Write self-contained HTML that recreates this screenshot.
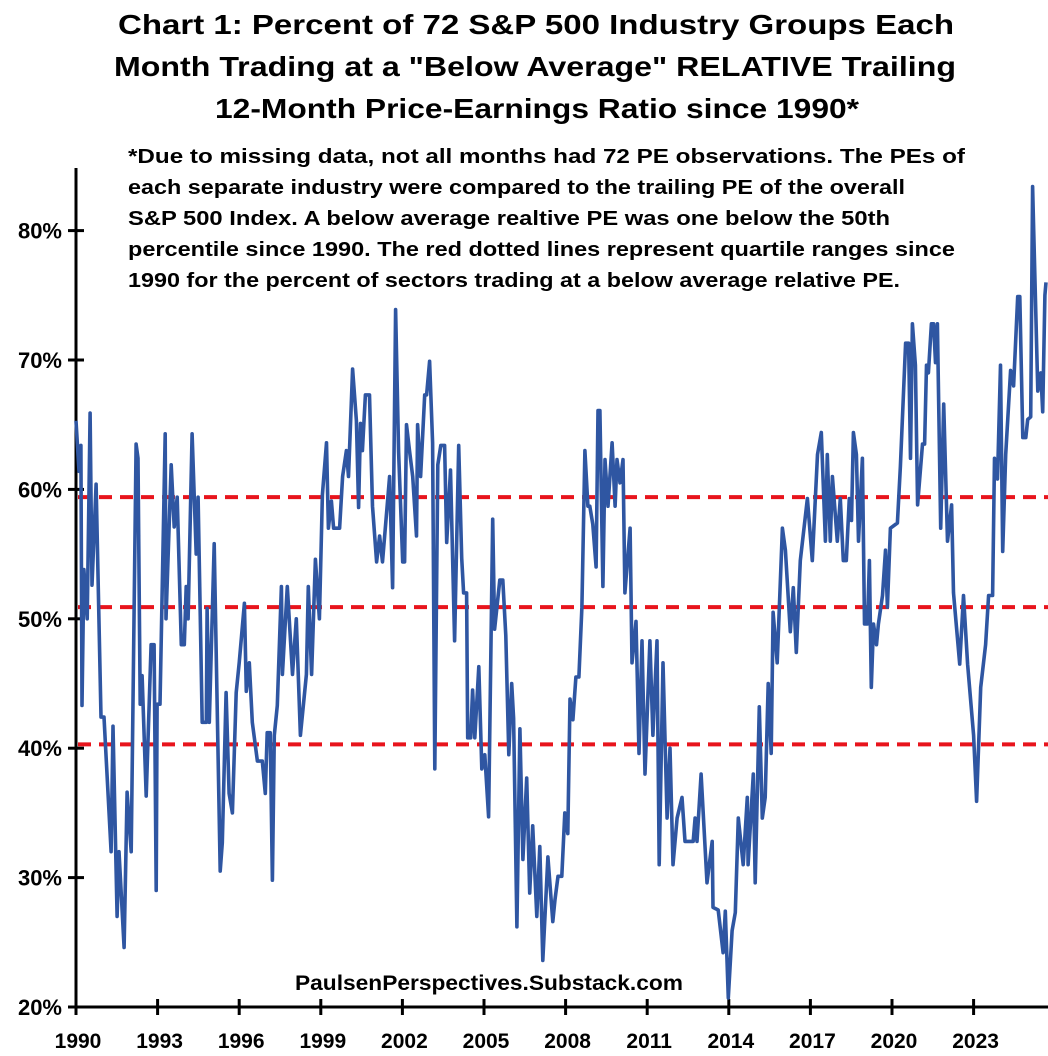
<!DOCTYPE html>
<html><head><meta charset="utf-8"><style>
html,body{margin:0;padding:0;background:#fff;}
svg{display:block;font-family:"Liberation Sans",sans-serif;font-weight:bold;}
</style></head><body>
<svg id="chart" width="1048" height="1056" viewBox="0 0 1048 1056" xmlns="http://www.w3.org/2000/svg">
<g font-size="28" text-anchor="middle" fill="#000">
<text x="536" y="34" textLength="836" lengthAdjust="spacingAndGlyphs">Chart 1: Percent of 72 S&amp;P 500 Industry Groups Each</text>
<text x="535" y="76" textLength="842" lengthAdjust="spacingAndGlyphs">Month Trading at a "Below Average" RELATIVE Trailing</text>
<text x="537" y="118" textLength="644" lengthAdjust="spacingAndGlyphs">12-Month Price-Earnings Ratio since 1990*</text>
</g>
<g font-size="20" fill="#000">
<text x="128" y="163" textLength="837" lengthAdjust="spacingAndGlyphs">*Due to missing data, not all months had 72 PE observations.  The PEs of</text>
<text x="128" y="194" textLength="777" lengthAdjust="spacingAndGlyphs">each separate industry were compared to the trailing PE of the overall</text>
<text x="128" y="225" textLength="762" lengthAdjust="spacingAndGlyphs">S&amp;P 500 Index.  A below average realtive PE was one below the 50th</text>
<text x="128" y="256" textLength="827" lengthAdjust="spacingAndGlyphs">percentile since 1990.  The red dotted lines represent quartile ranges since</text>
<text x="128" y="287" textLength="772" lengthAdjust="spacingAndGlyphs">1990 for the percent of sectors trading at a below average relative PE.</text>
</g>
<text x="489" y="990" font-size="21" text-anchor="middle" textLength="388" lengthAdjust="spacingAndGlyphs">PaulsenPerspectives.Substack.com</text>
<g id="axes"></g>
<g id="refs"></g>
<g id="series"></g>
</svg>
<script>
const yTicks = [20, 30, 40, 50, 60, 70, 80];
const xTicks = [1990, 1993, 1996, 1999, 2002, 2005, 2008, 2011, 2014, 2017, 2020, 2023];
const quartiles = [59.4, 50.9, 40.3];
const dates = [1990.00,1990.11,1990.18,1990.22,1990.29,1990.41,1990.52,1990.59,1990.74,1990.92,1991.03,1991.29,1991.36,1991.51,1991.58,1991.77,1991.88,1992.03,1992.21,1992.28,1992.36,1992.43,1992.58,1992.76,1992.87,1992.95,1992.98,1993.09,1993.28,1993.31,1993.50,1993.61,1993.72,1993.87,1993.98,1994.05,1994.12,1994.27,1994.42,1994.49,1994.64,1994.79,1994.82,1994.90,1995.08,1995.30,1995.38,1995.52,1995.63,1995.75,1995.89,1996.00,1996.19,1996.26,1996.37,1996.48,1996.67,1996.85,1996.96,1997.03,1997.14,1997.22,1997.29,1997.40,1997.55,1997.59,1997.77,1997.96,1998.10,1998.25,1998.47,1998.54,1998.66,1998.80,1998.95,1999.06,1999.21,1999.28,1999.39,1999.47,1999.69,1999.80,1999.94,2000.02,2000.17,2000.31,2000.39,2000.46,2000.53,2000.64,2000.79,2000.90,2001.05,2001.16,2001.27,2001.53,2001.64,2001.75,2001.86,2002.01,2002.08,2002.15,2002.26,2002.38,2002.52,2002.56,2002.67,2002.82,2002.89,2003.00,2003.11,2003.19,2003.30,2003.41,2003.55,2003.63,2003.77,2003.92,2004.07,2004.18,2004.25,2004.36,2004.40,2004.51,2004.58,2004.66,2004.81,2004.92,2005.03,2005.17,2005.32,2005.39,2005.58,2005.69,2005.80,2005.91,2006.02,2006.09,2006.21,2006.32,2006.43,2006.57,2006.68,2006.79,2006.94,2007.05,2007.16,2007.35,2007.53,2007.61,2007.72,2007.86,2007.97,2008.08,2008.16,2008.27,2008.38,2008.49,2008.60,2008.71,2008.82,2008.89,2009.00,2009.12,2009.19,2009.26,2009.37,2009.45,2009.56,2009.71,2009.82,2009.89,2010.00,2010.11,2010.18,2010.37,2010.44,2010.59,2010.70,2010.81,2010.92,2011.10,2011.21,2011.36,2011.44,2011.58,2011.73,2011.84,2011.95,2012.10,2012.28,2012.39,2012.69,2012.76,2012.83,2012.98,2013.20,2013.39,2013.42,2013.61,2013.79,2013.87,2013.98,2014.12,2014.24,2014.35,2014.53,2014.68,2014.71,2014.90,2014.97,2015.12,2015.23,2015.34,2015.45,2015.56,2015.63,2015.78,2015.97,2016.08,2016.26,2016.37,2016.48,2016.63,2016.89,2017.07,2017.26,2017.40,2017.55,2017.62,2017.73,2017.81,2017.99,2018.10,2018.21,2018.32,2018.43,2018.51,2018.58,2018.69,2018.77,2018.91,2018.99,2019.10,2019.17,2019.24,2019.32,2019.43,2019.50,2019.65,2019.76,2019.83,2019.94,2020.20,2020.31,2020.50,2020.61,2020.68,2020.75,2020.86,2020.94,2021.12,2021.20,2021.27,2021.34,2021.45,2021.53,2021.60,2021.67,2021.79,2021.90,2022.04,2022.19,2022.26,2022.49,2022.63,2022.78,2023.00,2023.11,2023.26,2023.44,2023.55,2023.70,2023.77,2023.88,2023.99,2024.07,2024.18,2024.36,2024.47,2024.62,2024.70,2024.81,2024.92,2024.99,2025.10,2025.17,2025.21,2025.36,2025.47,2025.54,2025.62,2025.66];
const values = [65.3,61.4,63.4,43.3,53.8,50,65.9,52.6,60.4,42.4,42.4,32,41.7,27,32,24.6,36.6,32,63.5,62.4,43.4,45.6,36.3,48,48,29,43.4,43.4,64.3,50,61.9,57.1,59.4,48,48,52.5,50,64.3,55,59.4,42,42,50.8,42,55.8,30.5,32.7,44.3,36.5,35,44.3,46.6,51.2,44.4,46.6,42,39,39,36.5,41.2,41.2,29.8,41,43.3,52.5,45.7,52.5,45.7,50,41,45.7,52.5,45.7,54.6,50,59.6,63.6,57,59.1,57,57,61,63,61,69.3,65.3,58.6,65.1,63,67.3,67.3,58.7,54.4,56.4,54.4,61,52.4,73.9,62.9,54.4,54.4,65,63,61,56.4,65,61,67.3,67.3,69.9,63.6,38.4,61.9,63.4,63.4,55.9,61.5,48.3,63.4,54.7,52,52,40.8,40.8,44.5,40.8,46.3,38.4,39.5,34.7,57.7,49.2,53,53,48.7,39.5,45,42.3,26.2,41.5,31.4,37.7,28.8,34,27,32.4,23.6,31.6,26.6,28.3,30.1,30.1,35,33.4,43.8,42.2,45.5,45.5,50.9,63,58.7,58.7,57.3,54,66.1,66.1,52.5,62.3,58.7,63.6,58.7,62.3,60.5,62.3,52,57,46.6,49.8,39.6,48.3,38,48.3,41,48.3,31,46.6,34.6,40,31,34.6,36.2,32.8,32.8,34.6,32.8,38,29.6,32.8,27.7,27.5,24.2,27.4,20.7,25.9,27.3,34.6,31,36.2,31,38,29.6,43.2,34.6,36.2,45,39.6,50.5,46.6,57,55.3,49,52.4,47.4,54.5,59.3,54.5,62.7,64.4,56,62.7,56,61,56,59.3,54.5,54.5,59.3,57.6,64.4,62.7,56,62.4,49.6,49.6,54.5,44.7,49.6,48,49.6,51.8,55.3,50.9,57,57.4,61.8,71.3,71.3,62.4,72.8,69.6,58.8,63.5,63.5,69.6,69,72.8,72.8,69.8,72.8,57,66.6,56,58.8,52,46.5,51.8,46.5,41,35.9,44.7,48,51.8,51.8,62.4,60.8,69.6,55.2,62.7,69.2,68,74.9,74.9,64,64,65.4,65.6,83.4,80,67.6,69,66,75,76];

const NS = 'http://www.w3.org/2000/svg';
const X0 = 76, PX_PER_YEAR = 27.2;
const Y0 = 1007, PX_PER_PCT = 12.94;
function xScale(yr){ return X0 + (yr - 1990) * PX_PER_YEAR; }
function yScale(v){ return Y0 - (v - 20) * PX_PER_PCT; }
function mk(tag, attrs, parent){ const e = document.createElementNS(NS, tag); for (const k in attrs) e.setAttribute(k, attrs[k]); parent.appendChild(e); return e; }

const axes = document.getElementById('axes');
const yAxis = mk('line', {x1:X0, y1:168, x2:X0, y2:Y0, stroke:'#000', 'stroke-width':3}, axes);


const xAxis = mk('line', {x1:X0, y1:Y0, x2:1048, y2:Y0, stroke:'#000', 'stroke-width':3}, axes);



yTicks.forEach(v => {
  const y = yScale(v);
  const t = mk('line', {x1:X0-8, y1:y, x2:X0+8, y2:y, stroke:'#000', 'stroke-width':3}, axes);
  
  
  const l = mk('text', {x:62, y:y+8, 'font-size':22, 'text-anchor':'end', fill:'#000'}, axes);
  l.textContent = v + '%';
  
  
});
xTicks.forEach(yr => {
  const x = xScale(yr);
  const t = mk('line', {x1:x, y1:Y0-8, x2:x, y2:Y0+8, stroke:'#000', 'stroke-width':3}, axes);
  
  
  const l = mk('text', {x:x+2, y:1048, 'font-size':21, 'text-anchor':'middle', fill:'#000'}, axes);
  l.textContent = yr;
  
  
});

const refs = document.getElementById('refs');
quartiles.forEach(q => {
  const y = yScale(q);
  const l = mk('line', {x1:X0+2, y1:y, x2:1048, y2:y, stroke:'#e8141c', 'stroke-width':4, 'stroke-dasharray':'13 8'}, refs);
  
  
});

const series = document.getElementById('series');
let d = '';
dates.forEach((yr, i) => { d += (i ? 'L' : 'M') + xScale(yr).toFixed(1) + ',' + yScale(values[i]).toFixed(1); });
const path = mk('path', {d:d, fill:'none', stroke:'#2f56a2', 'stroke-width':3.6, 'stroke-linejoin':'round'}, series);


</script>
</body></html>
